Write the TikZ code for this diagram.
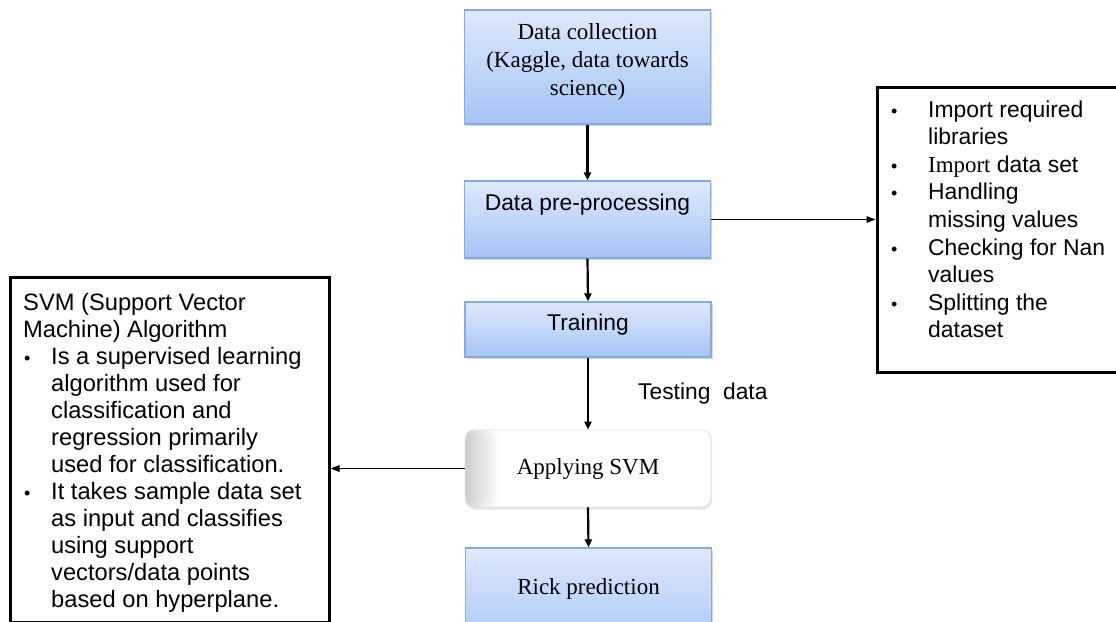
\documentclass[tikz,border=0pt]{standalone}
\usepackage{fontspec}
\setmainfont{Liberation Serif}
\newfontfamily\arialf{Liberation Sans}
\usetikzlibrary{arrows.meta,shadows}
\definecolor{bluetop}{HTML}{DEE9FC}
\definecolor{bluebot}{HTML}{A6C4F6}
\definecolor{blueedge}{HTML}{86AAE2}
\newcommand\serfont{\rmfamily\fontsize{23}{28}\selectfont}
\newcommand\ctrsans{\arialf\fontsize{22.8}{27.5}\selectfont}
\newcommand\rbfont{\arialf\fontsize{22.9}{27.6}\selectfont}
\newcommand\lbfont{\arialf\fontsize{23.7}{27.05}\selectfont}
\newcommand\bul{{\arialf\fontsize{18}{18}\selectfont\textbullet}}
\tikzset{
  bluebox/.style={draw=blueedge, line width=1.2pt, top color=bluetop, bottom color=bluebot,
    drop shadow={shadow xshift=1.5pt, shadow yshift=-1.5pt, opacity=.3},
    minimum width=246pt, inner sep=0pt},
  whitebox/.style={draw=black!13, line width=.8pt, fill=white, rounded corners=9pt,
    drop shadow={shadow xshift=1pt, shadow yshift=-2.5pt, opacity=.2},
    path picture={\foreach \i in {0,...,15}{
        \fill[black, opacity=0.011] (path picture bounding box.south west)
          rectangle ([xshift={34pt-2*\i pt}]path picture bounding box.north west);}},
    minimum width=246pt, inner sep=0pt},
  listbox/.style={draw=black, line width=3pt, fill=white, inner sep=0pt},
  flow/.style={line width=2.2pt, -{Triangle[length=8pt,width=7pt]}},
  side/.style={line width=1.7pt, -{Triangle[length=9pt,width=6.5pt]}},
}
\begin{document}
\begin{tikzpicture}[x=1pt,y=-1pt]
\fill[white] (0,0) rectangle (1116,621);
\clip (0,0) rectangle (1116,621);
% side boxes
\node[listbox, minimum width=258pt, minimum height=285pt] (rb) at (1006,229.5) {};
\node[listbox, minimum width=319pt, minimum height=345pt] (lb) at (169.5,449.5) {};
% central flow
\node[bluebox, minimum height=114pt,
  label={[name=dctext, font=\serfont, align=center, yshift=5pt]center:{Data collection\\(Kaggle, data towards\\science)}}]
  (dc) at (587.5,67) {};
\node[bluebox, minimum height=77pt,
  label={[name=pretext, font=\ctrsans, yshift=14.5pt]center:{Data pre-processing}}]
  (pre) at (587.5,219.5) {};
\node[bluebox, minimum height=55pt,
  label={[name=trtext, font=\ctrsans, yshift=5pt]center:{Training}}]
  (tr) at (588,329.5) {};
\node[whitebox, minimum height=77pt,
  label={[name=aptext, font=\serfont]center:{Applying SVM}}]
  (ap) at (588,468.5) {};
\node[bluebox, minimum height=102pt,
  label={[name=rptext, font=\serfont, yshift=10.5pt]center:{Rick prediction}}]
  (rp) at (588.5,599) {};
% texts of side boxes
\node[anchor=north west, inner sep=0pt, align=left, font=\rbfont] (rbt) at (891,100.3) {%
\makebox[37pt][l]{\bul}Import required\\
\hspace*{37pt}libraries\\
\makebox[37pt][l]{\bul}{\rmfamily Import} data set\\
\makebox[37pt][l]{\bul}Handling\\
\hspace*{37pt}missing values\\
\makebox[37pt][l]{\bul}Checking for Nan\\
\hspace*{37pt}values\\
\makebox[37pt][l]{\bul}Splitting the\\
\hspace*{37pt}dataset};
\node[anchor=north west, inner sep=0pt, align=left, font=\lbfont] (lbt) at (23,293) {%
SVM (Support Vector\\
Machine) Algorithm\\
\makebox[28pt][l]{\hspace{1pt}\bul}Is a supervised learning\\
\hspace*{28pt}algorithm used for\\
\hspace*{28pt}classification and\\
\hspace*{28pt}regression primarily\\
\hspace*{28pt}used for classification.\\
\makebox[28pt][l]{\hspace{1pt}\bul}It takes sample data set\\
\hspace*{28pt}as input and classifies\\
\hspace*{28pt}using support\\
\hspace*{28pt}vectors/data points\\
\hspace*{28pt}based on hyperplane.};
\node[anchor=west, inner sep=0pt, font=\ctrsans] (td) at (638,394) {Testing\ \ data};
% connectors
\draw[flow] (dc.south) -- (pre.north);
\draw[flow] (pre.south) -- (tr.north);
\draw[flow] (tr.south) -- (ap.north);
\draw[flow] (ap.south) -- (rp.north);
\draw[side] (pre.east) -- (pre.east -| rb.west);
\draw[side] (ap.west) -- (ap.west -| lb.east);
\end{tikzpicture}
\end{document}
